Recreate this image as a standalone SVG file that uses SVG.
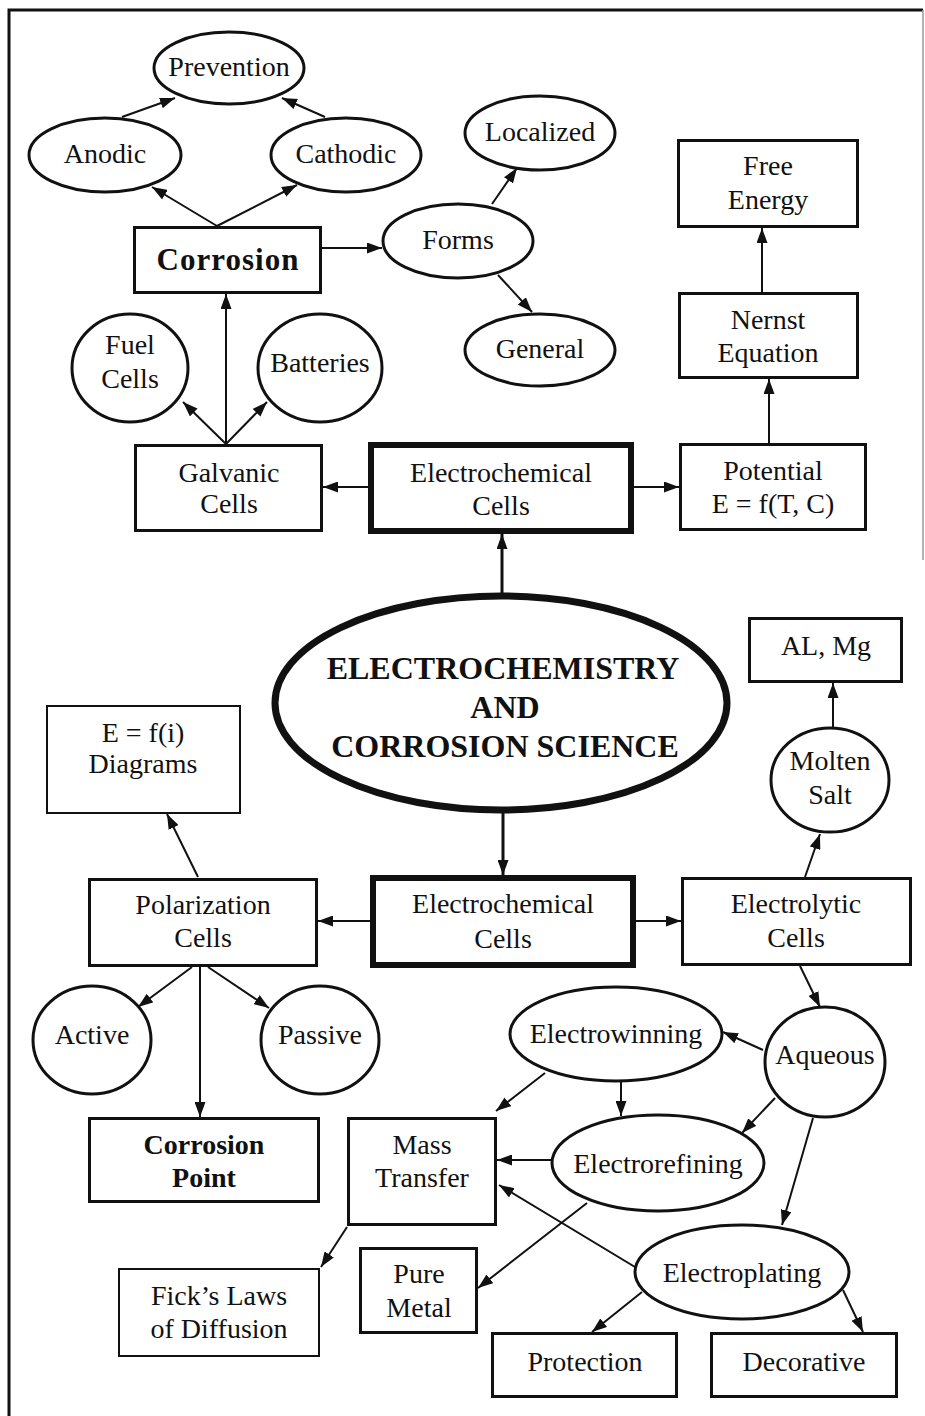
<svg xmlns="http://www.w3.org/2000/svg" width="925" height="1416" viewBox="0 0 925 1416">
<defs>
<marker id="ah" markerUnits="userSpaceOnUse" markerWidth="15" markerHeight="11" refX="15" refY="5.5" orient="auto">
<path d="M0,0 L15,5.5 L0,11 z" fill="#111"/>
</marker>
<style>
.t{font-family:"Liberation Serif","Times New Roman",serif;font-size:28px;fill:#111;text-anchor:middle}
.b{font-weight:bold}
.box{fill:#fff;stroke:#111;stroke-width:3}
.thin{fill:#fff;stroke:#111;stroke-width:2}
.thick{fill:#fff;stroke:#111;stroke-width:6}
.ell{fill:#fff;stroke:#111;stroke-width:3}
.c line{stroke:#111;stroke-width:2;marker-end:url(#ah)}
</style>
</defs>
<rect width="925" height="1416" fill="#fff"/>
<g id="frame" fill="none">
<path d="M9,1416 V10 H923" stroke="#111" stroke-width="3"/>
<path d="M923,10 V560" stroke="#999" stroke-width="1.5"/>
</g>
<g id="connectors" class="c">
<line x1="122" y1="117" x2="175" y2="98"/>
<line x1="325" y1="117" x2="282" y2="98"/>
<line x1="217" y1="226" x2="152" y2="187"/>
<line x1="217" y1="226" x2="297" y2="185"/>
<line x1="322" y1="248" x2="382" y2="248"/>
<line x1="492" y1="204" x2="517" y2="168"/>
<line x1="498" y1="275" x2="532" y2="312"/>
<line x1="226" y1="444" x2="226" y2="294"/>
<line x1="226" y1="444" x2="183" y2="402"/>
<line x1="226" y1="444" x2="267" y2="402"/>
<line x1="368" y1="487" x2="323" y2="487"/>
<line x1="634" y1="487" x2="679" y2="487"/>
<line x1="769" y1="443" x2="769" y2="379"/>
<line x1="762" y1="292" x2="762" y2="228"/>
<line x1="502" y1="593" x2="502" y2="534" style="stroke-width:3"/>
<line x1="503" y1="813" x2="503" y2="875" style="stroke-width:3"/>
<line x1="370" y1="921" x2="318" y2="921"/>
<line x1="636" y1="921" x2="681" y2="921"/>
<line x1="198" y1="877" x2="167" y2="814"/>
<line x1="192" y1="967" x2="138" y2="1007"/>
<line x1="200" y1="967" x2="200" y2="1117"/>
<line x1="208" y1="967" x2="269" y2="1008"/>
<line x1="805" y1="877" x2="820" y2="834"/>
<line x1="833" y1="727" x2="833" y2="683"/>
<line x1="800" y1="966" x2="820" y2="1007"/>
<line x1="763" y1="1050" x2="723" y2="1032"/>
<line x1="775" y1="1098" x2="742" y2="1133"/>
<line x1="813" y1="1118" x2="782" y2="1225"/>
<line x1="545" y1="1073" x2="496" y2="1111"/>
<line x1="621" y1="1073" x2="621" y2="1116"/>
<line x1="551" y1="1160" x2="497" y2="1160"/>
<line x1="635" y1="1267" x2="499" y2="1185"/>
<line x1="587" y1="1203" x2="478" y2="1288"/>
<line x1="347" y1="1227" x2="321" y2="1267"/>
<line x1="642" y1="1292" x2="592" y2="1332"/>
<line x1="843" y1="1290" x2="863" y2="1332"/>
</g>
<g id="prevention"><ellipse class="ell" cx="229" cy="68" rx="75" ry="36"/><text class="t" x="229" y="76">Prevention</text></g>
<g id="anodic"><ellipse class="ell" cx="105" cy="155" rx="76" ry="37"/><text class="t" x="105" y="163">Anodic</text></g>
<g id="cathodic"><ellipse class="ell" cx="346" cy="155" rx="75" ry="37"/><text class="t" x="346" y="163">Cathodic</text></g>
<g id="corrosion"><rect class="box" x="134.5" y="227.5" width="186" height="65"/><text class="t b" x="228" y="270" style="font-size:31px;letter-spacing:1px">Corrosion</text></g>
<g id="forms"><ellipse class="ell" cx="458" cy="241" rx="75" ry="37"/><text class="t" x="458" y="249">Forms</text></g>
<g id="localized"><ellipse class="ell" cx="540" cy="133" rx="75" ry="37"/><text class="t" x="540" y="141">Localized</text></g>
<g id="general"><ellipse class="ell" cx="540" cy="350" rx="75" ry="36"/><text class="t" x="540" y="358">General</text></g>
<g id="free-energy"><rect class="box" x="678.5" y="140.5" width="179" height="86"/><text class="t" x="768" y="175">Free</text><text class="t" x="768" y="209">Energy</text></g>
<g id="nernst"><rect class="box" x="679.5" y="293.5" width="178" height="84"/><text class="t" x="768" y="329">Nernst</text><text class="t" x="768" y="362">Equation</text></g>
<g id="fuel-cells"><ellipse class="ell" cx="130" cy="368" rx="58" ry="54"/><text class="t" x="130" y="354">Fuel</text><text class="t" x="130" y="388">Cells</text></g>
<g id="batteries"><ellipse class="ell" cx="320" cy="368" rx="62" ry="54"/><text class="t" x="320" y="372">Batteries</text></g>
<g id="galvanic"><rect class="box" x="135.5" y="445.5" width="186" height="85"/><text class="t" x="229" y="482">Galvanic</text><text class="t" x="229" y="513">Cells</text></g>
<g id="electrochem-top"><rect class="thick" x="371" y="445" width="260" height="86"/><text class="t" x="501" y="482">Electrochemical</text><text class="t" x="501" y="515">Cells</text></g>
<g id="potential"><rect class="box" x="680.5" y="444.5" width="185" height="85"/><text class="t" x="773" y="480">Potential</text><text class="t" x="773" y="513">E = f(T, C)</text></g>
<g id="main"><ellipse cx="501" cy="703" rx="226" ry="107" fill="#fff" stroke="#111" stroke-width="7"/>
<text class="t b" x="503" y="679" style="font-size:32px">ELECTROCHEMISTRY</text>
<text class="t b" x="505" y="718" style="font-size:32px">AND</text>
<text class="t b" x="505" y="757" style="font-size:32px">CORROSION SCIENCE</text></g>
<g id="al-mg"><rect class="box" x="749.5" y="618.5" width="152" height="63"/><text class="t" x="826" y="655">AL, Mg</text></g>
<g id="efi"><rect class="thin" x="47" y="706" width="193" height="107"/><text class="t" x="143" y="742">E = f(i)</text><text class="t" x="143" y="773">Diagrams</text></g>
<g id="molten-salt"><ellipse class="ell" cx="830" cy="780" rx="59" ry="52"/><text class="t" x="830" y="770">Molten</text><text class="t" x="830" y="804">Salt</text></g>
<g id="polarization"><rect class="box" x="89.5" y="879.5" width="227" height="86"/><text class="t" x="203" y="914">Polarization</text><text class="t" x="203" y="947">Cells</text></g>
<g id="electrochem-low"><rect class="thick" x="373" y="878" width="260" height="87"/><text class="t" x="503" y="913">Electrochemical</text><text class="t" x="503" y="948">Cells</text></g>
<g id="electrolytic"><rect class="box" x="682.5" y="878.5" width="228" height="86"/><text class="t" x="796" y="913">Electrolytic</text><text class="t" x="796" y="947">Cells</text></g>
<g id="active"><ellipse class="ell" cx="92" cy="1040" rx="59" ry="54"/><text class="t" x="92" y="1044">Active</text></g>
<g id="passive"><ellipse class="ell" cx="320" cy="1040" rx="59" ry="54"/><text class="t" x="320" y="1044">Passive</text></g>
<g id="electrowinning"><ellipse class="ell" cx="616" cy="1034" rx="106" ry="47"/><text class="t" x="616" y="1043">Electrowinning</text></g>
<g id="aqueous"><ellipse class="ell" cx="825" cy="1062" rx="60" ry="55"/><text class="t" x="825" y="1064">Aqueous</text></g>
<g id="corrosion-point"><rect class="box" x="89.5" y="1118.5" width="229" height="83"/><text class="t b" x="204" y="1154">Corrosion</text><text class="t b" x="204" y="1187">Point</text></g>
<g id="mass-transfer"><rect class="box" x="348.5" y="1118.5" width="147" height="106"/><text class="t" x="422" y="1154">Mass</text><text class="t" x="422" y="1187">Transfer</text></g>
<g id="electrorefining"><ellipse class="ell" cx="658" cy="1163" rx="106" ry="48"/><text class="t" x="658" y="1173">Electrorefining</text></g>
<g id="fick"><rect class="thin" x="119" y="1269" width="200" height="87"/><text class="t" x="219" y="1305">Fick’s Laws</text><text class="t" x="219" y="1338">of Diffusion</text></g>
<g id="pure-metal"><rect class="box" x="360.5" y="1248.5" width="116" height="84"/><text class="t" x="419" y="1283">Pure</text><text class="t" x="419" y="1317">Metal</text></g>
<g id="electroplating"><ellipse class="ell" cx="742" cy="1272" rx="107" ry="47"/><text class="t" x="742" y="1282">Electroplating</text></g>
<g id="protection"><rect class="box" x="492.5" y="1333.5" width="184" height="63"/><text class="t" x="585" y="1371">Protection</text></g>
<g id="decorative"><rect class="box" x="711.5" y="1333.5" width="185" height="63"/><text class="t" x="804" y="1371">Decorative</text></g>
</svg>
